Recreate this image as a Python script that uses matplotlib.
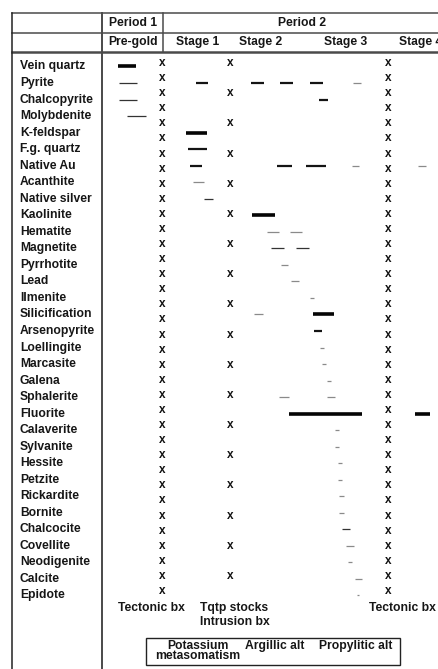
import numpy as np
import matplotlib
matplotlib.use('Agg')
import matplotlib.pyplot as plt
from matplotlib.patches import Rectangle

plt.rcParams['font.family'] = ['Liberation Sans', 'DejaVu Sans']
plt.rcParams['font.weight'] = 'bold'

# minerals, top to bottom
minerals = ['Vein quartz', 'Pyrite', 'Chalcopyrite', 'Molybdenite', 'K-feldspar',
            'F.g. quartz', 'Native Au', 'Acanthite', 'Native silver', 'Kaolinite',
            'Hematite', 'Magnetite', 'Pyrrhotite', 'Lead', 'Ilmenite',
            'Silicification', 'Arsenopyrite', 'Loellingite', 'Marcasite', 'Galena',
            'Sphalerite', 'Fluorite', 'Calaverite', 'Sylvanite', 'Hessite',
            'Petzite', 'Rickardite', 'Bornite', 'Chalcocite', 'Covellite',
            'Neodigenite', 'Calcite', 'Epidote']

# deposition intervals along the time line (start, end) and abundance class
bar_mineral = ['Vein quartz', 'Pyrite', 'Pyrite', 'Pyrite', 'Pyrite', 'Pyrite', 'Pyrite',
               'Chalcopyrite', 'Chalcopyrite', 'Molybdenite', 'K-feldspar', 'F.g. quartz',
               'Native Au', 'Native Au', 'Native Au', 'Native Au', 'Native Au',
               'Acanthite', 'Native silver', 'Kaolinite', 'Hematite', 'Hematite',
               'Magnetite', 'Magnetite', 'Pyrrhotite', 'Lead', 'Ilmenite',
               'Silicification', 'Silicification', 'Arsenopyrite', 'Loellingite',
               'Marcasite', 'Galena', 'Sphalerite', 'Sphalerite', 'Fluorite', 'Fluorite',
               'Calaverite', 'Sylvanite', 'Hessite', 'Petzite', 'Rickardite', 'Bornite',
               'Chalcocite', 'Covellite', 'Neodigenite', 'Calcite', 'Epidote']
bar_start = [118, 119, 196, 251, 280, 310, 353,
             119, 319, 127, 186, 188,
             190, 277, 306, 352, 418,
             193, 204, 252, 267, 290,
             271, 296, 281, 291, 310,
             254, 313, 314, 320,
             322, 327, 279, 327, 289, 415,
             335, 335, 338, 338, 339, 339,
             342, 346, 348, 355, 357]
bar_end = [136, 137, 208, 264, 293, 323, 361,
           137, 328, 146, 207, 207,
           202, 292, 326, 359, 426,
           204, 213, 275, 279, 302,
           284, 309, 288, 299, 314,
           263, 334, 322, 324,
           326, 331, 289, 335, 362, 430,
           339, 339, 342, 342, 344, 344,
           350, 354, 352, 362, 359]
bar_class = ['major', 'minor', 'moderate', 'moderate', 'moderate', 'moderate', 'trace',
             'minor', 'moderate', 'minor', 'major', 'moderate',
             'moderate', 'moderate', 'moderate', 'trace', 'trace',
             'trace', 'minor', 'major', 'trace', 'trace',
             'minor', 'minor', 'trace', 'trace', 'trace',
             'trace', 'major', 'moderate', 'trace',
             'trace', 'trace', 'trace', 'trace', 'major', 'major',
             'trace', 'trace', 'trace', 'trace', 'trace', 'trace',
             'minor', 'trace', 'trace', 'trace', 'trace']

period_names = ['Period 1', 'Period 2']
stage_names = ['Pre-gold', 'Stage 1', 'Stage 2', 'Stage 3', 'Stage 4']
host_rocks = ['Tectonic bx', 'Tqtp stocks\nIntrusion bx', 'Tectonic bx']
alteration = ['Potassium\nmetasomatism', 'Argillic alt', 'Propylitic alt']

styles = {'major': dict(lw=2.6, color='#050505'),
          'moderate': dict(lw=1.6, color='#141414'),
          'minor': dict(lw=0.9, color='#333333'),
          'trace': dict(lw=0.9, color='#8a8a8a')}

W, H = 438, 669
fig = plt.figure(figsize=(W / 100, H / 100), dpi=100)

# frame axes in pixel units for the table grid and captions
frame = fig.add_axes([0, 0, 1, 1])
frame.set_xlim(0, W)
frame.set_ylim(H, 0)
frame.axis('off')

# body axes: one unit per mineral row
row0, pitch = 66.5, 16.53
body = fig.add_axes([0, 0, 1, 1])
body.set_xlim(0, W)
body.set_ylim((H - row0) / pitch, -row0 / pitch)
body.axis('off')

txt = dict(fontsize=8.7, fontweight='bold', color='#161616')
gridc = '#4a4a4a'

# table grid
frame.plot([12, W], [13, 13], color=gridc, lw=1.1)
frame.plot([12, W], [33, 33], color=gridc, lw=1.1)
frame.plot([12, W], [52, 52], color=gridc, lw=1.8)
frame.plot([12, 12], [13, H], color='#222222', lw=1.1)
frame.plot([102, 102], [13, H], color=gridc, lw=1.4)
frame.plot([163, 163], [13, 52], color=gridc, lw=1.1)

# header
frame.text(133, 23, period_names[0], ha='center', va='center', **txt)
frame.text(302, 23, period_names[1], ha='center', va='center', **txt)
for x, s in zip([133, 198, 261, 346, 399], stage_names):
    frame.text(x, 42, s, ha='left' if s == 'Stage 4' else 'center', va='center', **txt)

# mineral labels
rows = {m: i for i, m in enumerate(minerals)}
for m, i in rows.items():
    body.text(20, i, m, ha='left', va='center', **txt)

# stage separators drawn as columns of x
xs = np.linspace(63, 591, 36)
for cx, ys in [(162, xs), (230, xs[::2]), (388.5, xs)]:
    for y in ys:
        frame.text(cx, y, 'x', ha='center', va='center', fontsize=8.5,
                   fontweight='bold', color='#111111')

# mineral deposition bars
for m, s, e, c in zip(bar_mineral, bar_start, bar_end, bar_class):
    r = rows[m]
    body.plot([s, e], [r, r], solid_capstyle='butt', **styles[c])

# host rocks under the columns
frame.text(151, 608, host_rocks[0], ha='center', va='center', **txt)
frame.text(200, 615, host_rocks[1], ha='left', va='center', linespacing=1.15, **txt)
frame.text(402, 608, host_rocks[2], ha='center', va='center', **txt)

# alteration box
frame.add_patch(Rectangle((146, 638), 254, 27, fill=False, lw=1.0, ec='#222222'))
frame.text(198, 651, alteration[0], ha='center', va='center', linespacing=0.85, **txt)
frame.text(275, 646, alteration[1], ha='center', va='center', **txt)
frame.text(356, 646, alteration[2], ha='center', va='center', **txt)

fig.savefig('out.png', dpi=100, facecolor='white')
